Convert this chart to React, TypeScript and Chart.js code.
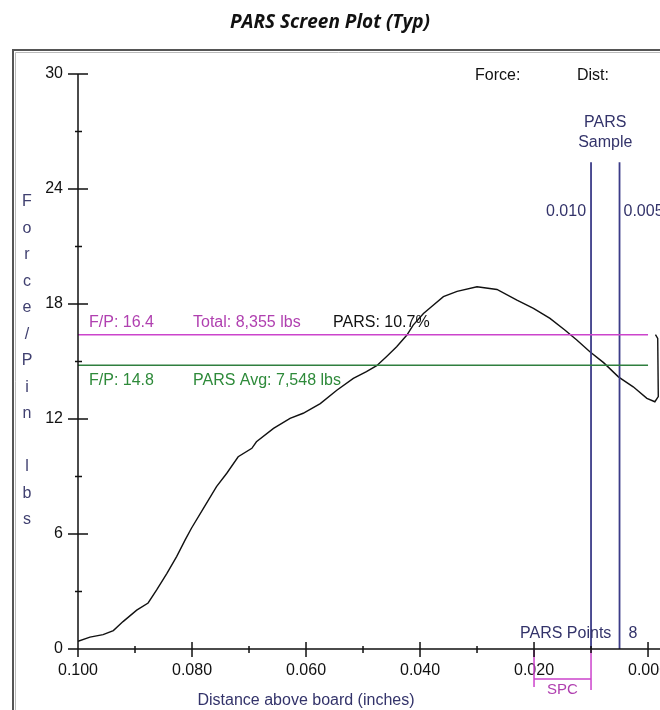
import React, { useEffect, useRef } from "react";
import { Chart, registerables } from "chart.js";

Chart.register(...registerables);

// ---- Data ----
const TITLE = "PARS Screen Plot (Typ)";
const X_AXIS_TITLE = "Distance above board (inches)";
const Y_AXIS_TITLE = ["F", "o", "r", "c", "e", "/", "P", "i", "n", "", "l", "b", "s"];

const CURVE_X = [
  0.1, 0.0979, 0.0956, 0.0938, 0.0921, 0.0897, 0.0877, 0.0862, 0.0844, 0.0827,
  0.0812, 0.0801, 0.078, 0.0757, 0.0739, 0.0719, 0.0695, 0.0687, 0.0657, 0.0628,
  0.0605, 0.0575, 0.0546, 0.0517, 0.0494, 0.0476, 0.0459, 0.0441, 0.0423, 0.0412,
  0.0394, 0.038, 0.0359, 0.0335, 0.03, 0.0265, 0.023, 0.0201, 0.0172, 0.0146,
  0.0125, 0.0102, 0.0078, 0.0052, 0.0026, 0.0002, -0.0012, -0.0018, -0.0017, -0.0013,
];
const CURVE_Y = [
  0.4, 0.62, 0.75, 0.96, 1.43, 2.03, 2.4, 3.08, 3.95, 4.82,
  5.69, 6.3, 7.34, 8.47, 9.17, 10.03, 10.47, 10.81, 11.51, 12.03,
  12.3, 12.8, 13.5, 14.12, 14.47, 14.78, 15.25, 15.77, 16.38, 16.9,
  17.5, 17.86, 18.38, 18.66, 18.9, 18.76, 18.2, 17.77, 17.25, 16.64,
  16.12, 15.51, 14.94, 14.2, 13.68, 13.08, 12.9, 13.17, 16.2, 16.4,
];

const X_TICKS = [0.1, 0.08, 0.06, 0.04, 0.02, 0];
const X_MINOR = [0.09, 0.07, 0.05, 0.03, 0.01];
const Y_TICKS = [0, 6, 12, 18, 24, 30];
const Y_MINOR = [3, 9, 15, 21, 27];

const FP_TOTAL = 16.4;
const FP_AVG = 14.8;
const FP_RANGE = [0.1, 0];
const SAMPLE_X = [0.01, 0.005];
const SAMPLE_TOP = 25.4;
const SPC_RANGE = [0.02, 0.01];

const FP_TOTAL_LABEL = "F/P: 16.4";
const TOTAL_LABEL = "Total: 8,355 lbs";
const PARS_LABEL = "PARS: 10.7%";
const FP_AVG_LABEL = "F/P: 14.8";
const AVG_LABEL = "PARS Avg: 7,548 lbs";
const SAMPLE_LABELS = ["0.010", "0.005"];
const PARS_POINTS = 8;

const FONT = '"Liberation Sans", Arial, sans-serif';
const MAGENTA_LINE = "#cc44cc";
const MAGENTA_TEXT = "#b040b0";
const GREEN_LINE = "#2f7f3f";
const GREEN_TEXT = "#2e8a3a";
const NAVY = "#3c3c88";
const NAVY_TEXT = "#33336a";
const AXIS = "#111111";

const overlayPlugin = {
  id: "overlay",
  beforeDraw(chart: any) {
    const ctx = chart.ctx as CanvasRenderingContext2D;
    ctx.save();
    ctx.fillStyle = "#ffffff";
    ctx.fillRect(0, 0, chart.width, chart.height);
    ctx.fillStyle = "#111";
    ctx.font = 'italic 700 19px "Open Sans", sans-serif';
    ctx.textAlign = "center";
    ctx.textBaseline = "alphabetic";
    ctx.fillText(TITLE, 330, 28);
    // frame
    ctx.strokeStyle = "#555";
    ctx.lineWidth = 2;
    ctx.beginPath();
    ctx.moveTo(13, 720);
    ctx.lineTo(13, 50);
    ctx.lineTo(670, 50);
    ctx.stroke();
    ctx.strokeStyle = "#bbb";
    ctx.lineWidth = 1;
    ctx.beginPath();
    ctx.moveTo(15.5, 720);
    ctx.lineTo(15.5, 52.5);
    ctx.lineTo(670, 52.5);
    ctx.stroke();
    ctx.restore();
  },
  afterDraw(chart: any) {
    const ctx = chart.ctx as CanvasRenderingContext2D;
    const xs = chart.scales.x;
    const ys = chart.scales.y;
    const x0 = xs.getPixelForValue(0.1);
    const y0 = ys.getPixelForValue(0);
    const yTop = ys.getPixelForValue(30);
    ctx.save();
    ctx.strokeStyle = AXIS;
    ctx.lineWidth = 1.5;
    ctx.beginPath();
    ctx.moveTo(x0, yTop);
    ctx.lineTo(x0, y0 + 8);
    ctx.moveTo(x0 - 10, y0);
    ctx.lineTo(chart.width, y0);
    Y_TICKS.forEach((v) => {
      const p = ys.getPixelForValue(v);
      ctx.moveTo(x0 - 10, p);
      ctx.lineTo(x0 + 10, p);
    });
    Y_MINOR.forEach((v) => {
      const p = ys.getPixelForValue(v);
      ctx.moveTo(x0 - 3, p);
      ctx.lineTo(x0 + 4, p);
    });
    X_TICKS.forEach((v) => {
      const p = xs.getPixelForValue(v);
      ctx.moveTo(p, y0 - 7);
      ctx.lineTo(p, y0 + 8);
    });
    X_MINOR.forEach((v) => {
      const p = xs.getPixelForValue(v);
      ctx.moveTo(p, y0 - 3);
      ctx.lineTo(p, y0 + 4);
    });
    ctx.stroke();

    // y axis title (stacked letters)
    ctx.font = `16px ${FONT}`;
    ctx.fillStyle = "#404070";
    ctx.textAlign = "center";
    ctx.textBaseline = "middle";
    Y_AXIS_TITLE.forEach((ch, i) => {
      ctx.fillText(ch, 27, 202 + i * 26.5);
    });

    // x axis title
    ctx.fillStyle = NAVY_TEXT;
    ctx.textBaseline = "alphabetic";
    ctx.fillText(X_AXIS_TITLE, 306, 705);

    // F/P labels
    ctx.textAlign = "left";
    const yT = ys.getPixelForValue(FP_TOTAL);
    const yA = ys.getPixelForValue(FP_AVG);
    ctx.fillStyle = MAGENTA_TEXT;
    ctx.fillText(FP_TOTAL_LABEL, x0 + 11, yT - 8);
    ctx.fillText(TOTAL_LABEL, x0 + 115, yT - 8);
    ctx.fillStyle = "#111";
    ctx.fillText(PARS_LABEL, x0 + 255, yT - 8);
    ctx.fillStyle = GREEN_TEXT;
    ctx.fillText(FP_AVG_LABEL, x0 + 11, yA + 20);
    ctx.fillText(AVG_LABEL, x0 + 115, yA + 20);

    // header labels
    ctx.fillStyle = "#111";
    ctx.fillText("Force:", 475, 80);
    ctx.fillText("Dist:", 577, 80);

    const s1 = xs.getPixelForValue(SAMPLE_X[0]);
    const s2 = xs.getPixelForValue(SAMPLE_X[1]);
    ctx.fillStyle = NAVY_TEXT;
    ctx.textAlign = "center";
    ctx.fillText("PARS", (s1 + s2) / 2, 127);
    ctx.fillText("Sample", (s1 + s2) / 2, 147);
    ctx.textAlign = "right";
    ctx.fillText(SAMPLE_LABELS[0], s1 - 5, 216);
    ctx.textAlign = "left";
    ctx.fillText(SAMPLE_LABELS[1], s2 + 4, 216);

    // PARS points
    const spcL = xs.getPixelForValue(SPC_RANGE[0]);
    const spcR = xs.getPixelForValue(SPC_RANGE[1]);
    ctx.fillText("PARS Points", spcL - 14, 638);
    ctx.fillText(String(PARS_POINTS), s2 + 9, 638);

    ctx.fillStyle = MAGENTA_TEXT;
    ctx.textAlign = "center";
    ctx.font = `15px ${FONT}`;
    ctx.fillText("SPC", (spcL + spcR) / 2, 694);
    ctx.restore();
  },
};

export default function App() {
  const ref = useRef<HTMLCanvasElement | null>(null);
  useEffect(() => {
    if (!ref.current) return;
    const hLine = (y: number) => FP_RANGE.map((x) => ({ x, y }));
    const vLine = (x: number) => [{ x, y: 0 }, { x, y: SAMPLE_TOP }];
    const yBelow = (px: number, chartBottomPx = 649, perUnit = 575 / 30) => -(px - chartBottomPx) / perUnit;
    const spcData: any[] = [
      { x: SPC_RANGE[0], y: yBelow(650) },
      { x: SPC_RANGE[0], y: yBelow(687) },
      { x: SPC_RANGE[0], y: null },
      { x: SPC_RANGE[0], y: yBelow(679) },
      { x: SPC_RANGE[1], y: yBelow(679) },
      { x: SPC_RANGE[1], y: null },
      { x: SPC_RANGE[1], y: yBelow(650) },
      { x: SPC_RANGE[1], y: yBelow(690) },
    ];
    const chart = new Chart(ref.current, {
      type: "scatter",
      data: {
        datasets: [
          {
            data: hLine(FP_TOTAL),
            showLine: true,
            borderColor: MAGENTA_LINE,
            borderWidth: 1.5,
            pointRadius: 0,
          },
          {
            data: hLine(FP_AVG),
            showLine: true,
            borderColor: GREEN_LINE,
            borderWidth: 1.5,
            pointRadius: 0,
          },
          ...SAMPLE_X.map((sx) => ({
            data: vLine(sx),
            showLine: true,
            borderColor: NAVY,
            borderWidth: 1.8,
            pointRadius: 0,
          })),
          {
            data: spcData,
            showLine: true,
            spanGaps: false,
            borderColor: MAGENTA_LINE,
            borderWidth: 1.5,
            pointRadius: 0,
            clip: false as any,
          },
          {
            data: CURVE_X.map((x, i) => ({ x, y: CURVE_Y[i] })),
            showLine: true,
            borderColor: "#111",
            borderWidth: 1.4,
            pointRadius: 0,
            tension: 0,
          },
        ] as any,
      },
      options: {
        responsive: false,
        maintainAspectRatio: false,
        animation: false,
        layout: { padding: { top: 74, left: 0, right: 0, bottom: 0 } },
        plugins: { legend: { display: false }, tooltip: { enabled: false }, title: { display: false } },
        scales: {
          x: {
            type: "linear",
            reverse: true,
            min: -0.0021,
            max: 0.1,
            grid: { display: false, drawTicks: false },
            border: { display: false },
            afterBuildTicks: (s: any) => {
              s.ticks = X_TICKS.map((v) => ({ value: v }));
            },
            afterFit: (s: any) => {
              s.height = 61;
              s.paddingLeft = 0;
              s.paddingRight = 0;
            },
            ticks: {
              autoSkip: false,
              maxRotation: 0,
              minRotation: 0,
              padding: 12,
              color: "#111",
              font: { family: FONT, size: 16 },
              callback: (v: any) => Number(v).toFixed(3),
            },
          },
          y: {
            type: "linear",
            min: 0,
            max: 30,
            grid: { display: false, drawTicks: false },
            border: { display: false },
            afterBuildTicks: (s: any) => {
              s.ticks = Y_TICKS.map((v) => ({ value: v }));
            },
            afterFit: (s: any) => {
              s.width = 78;
              s.paddingTop = 0;
              s.paddingBottom = 0;
            },
            ticks: {
              padding: 15,
              color: "#111",
              font: { family: FONT, size: 16 },
              callback: (v: any) => String(v),
            },
          },
        },
      } as any,
      plugins: [overlayPlugin],
    });
    return () => chart.destroy();
  }, []);
  return (
    <div style={{ position: "fixed", left: 0, top: 0, width: 660, height: 710, background: "#fff" }}>
      <canvas ref={ref} width={660} height={710} style={{ display: "block", width: 660, height: 710 }} />
    </div>
  );
}
